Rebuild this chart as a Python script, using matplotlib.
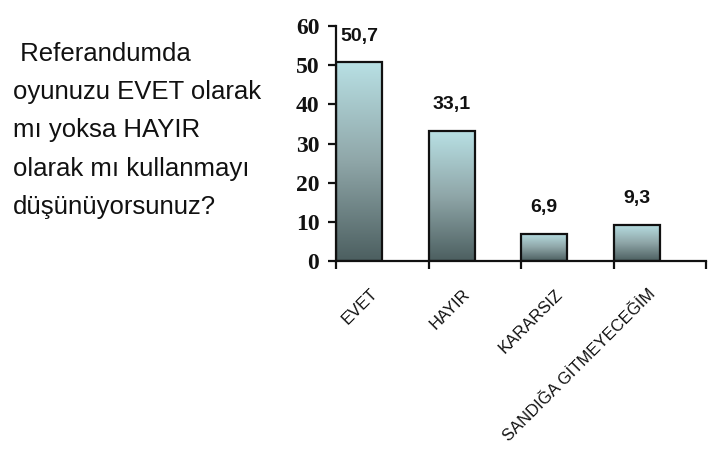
import matplotlib
matplotlib.use("Agg")
import matplotlib.pyplot as plt
import numpy as np
from matplotlib.colors import LinearSegmentedColormap

categories = ["EVET", "HAYIR", "KARARSIZ", "SANDIĞA GİTMEYECEĞİM"]
values = [50.7, 33.1, 6.9, 9.3]
value_labels = ["50,7", "33,1", "6,9", "9,3"]
yticks = [0, 10, 20, 30, 40, 50, 60]
question = " Referandumda\noyunuzu EVET olarak\nmı yoksa HAYIR\nolarak mı kullanmayı\ndüşünüyorsunuz?"

W, H = 726, 469
fig = plt.figure(figsize=(W / 100, H / 100), dpi=100)
fig.patch.set_facecolor("white")

ax = fig.add_axes([336 / W, 1 - 261 / H, (706 - 336) / W, (261 - 26) / H])

cmap = LinearSegmentedColormap.from_list("g", ["#4c5f60", "#8fa6a8", "#b8e0e4"])
grad = np.linspace(0, 1, 256).reshape(-1, 1)

x = np.arange(len(categories))
bars = ax.bar(x - 0.5, values, width=0.5, align="edge", facecolor="none",
              edgecolor="#111111", linewidth=1.6, zorder=3)
for b in bars:
    x0, w, h = b.get_x(), b.get_width(), b.get_height()
    im = ax.imshow(grad, cmap=cmap, origin="lower", aspect="auto",
                   extent=[x0, x0 + w, 0, h], zorder=2, interpolation="bicubic")
    im.set_clip_path(b)
ax.set_xlim(-0.5, len(categories) - 0.5)
ax.set_ylim(0, 60)

for xi, v, lab in zip(x, values, value_labels):
    ax.annotate(lab, xy=(xi - 0.25, v), xytext=(0, 19), textcoords="offset points",
                ha="center", va="center", fontsize=14, fontweight="bold",
                family="Liberation Sans", color="#111111")

for s in ["top", "right"]:
    ax.spines[s].set_visible(False)
for s in ["left", "bottom"]:
    ax.spines[s].set_linewidth(1.6)
    ax.spines[s].set_color("#111111")

ax.set_yticks(yticks)
ax.set_yticklabels([str(t) for t in yticks], family="Liberation Serif",
                   fontweight="bold", fontsize=17)
ax.tick_params(axis="y", length=6, width=1.6, pad=6, colors="#111111")
ax.set_xticks(np.arange(len(categories) + 1) - 0.5)
ax.set_xticklabels([])
ax.tick_params(axis="x", length=6, width=1.6, direction="out", colors="#111111")

for xi, lab in zip(x, categories):
    ax.annotate(lab, xy=(xi, 0), xycoords=("data", "axes fraction"),
                xytext=(-5, -22), textcoords="offset points",
                rotation=45, rotation_mode="anchor", ha="right", va="center",
                fontsize=12, family="Liberation Sans", color="#111111")

fig.text(13 / W, 1 - 42 / H, question, ha="left", va="top", fontsize=18.5,
         family="Liberation Sans", color="#111111", linespacing=1.75)

fig.savefig("out.png", dpi=100)
